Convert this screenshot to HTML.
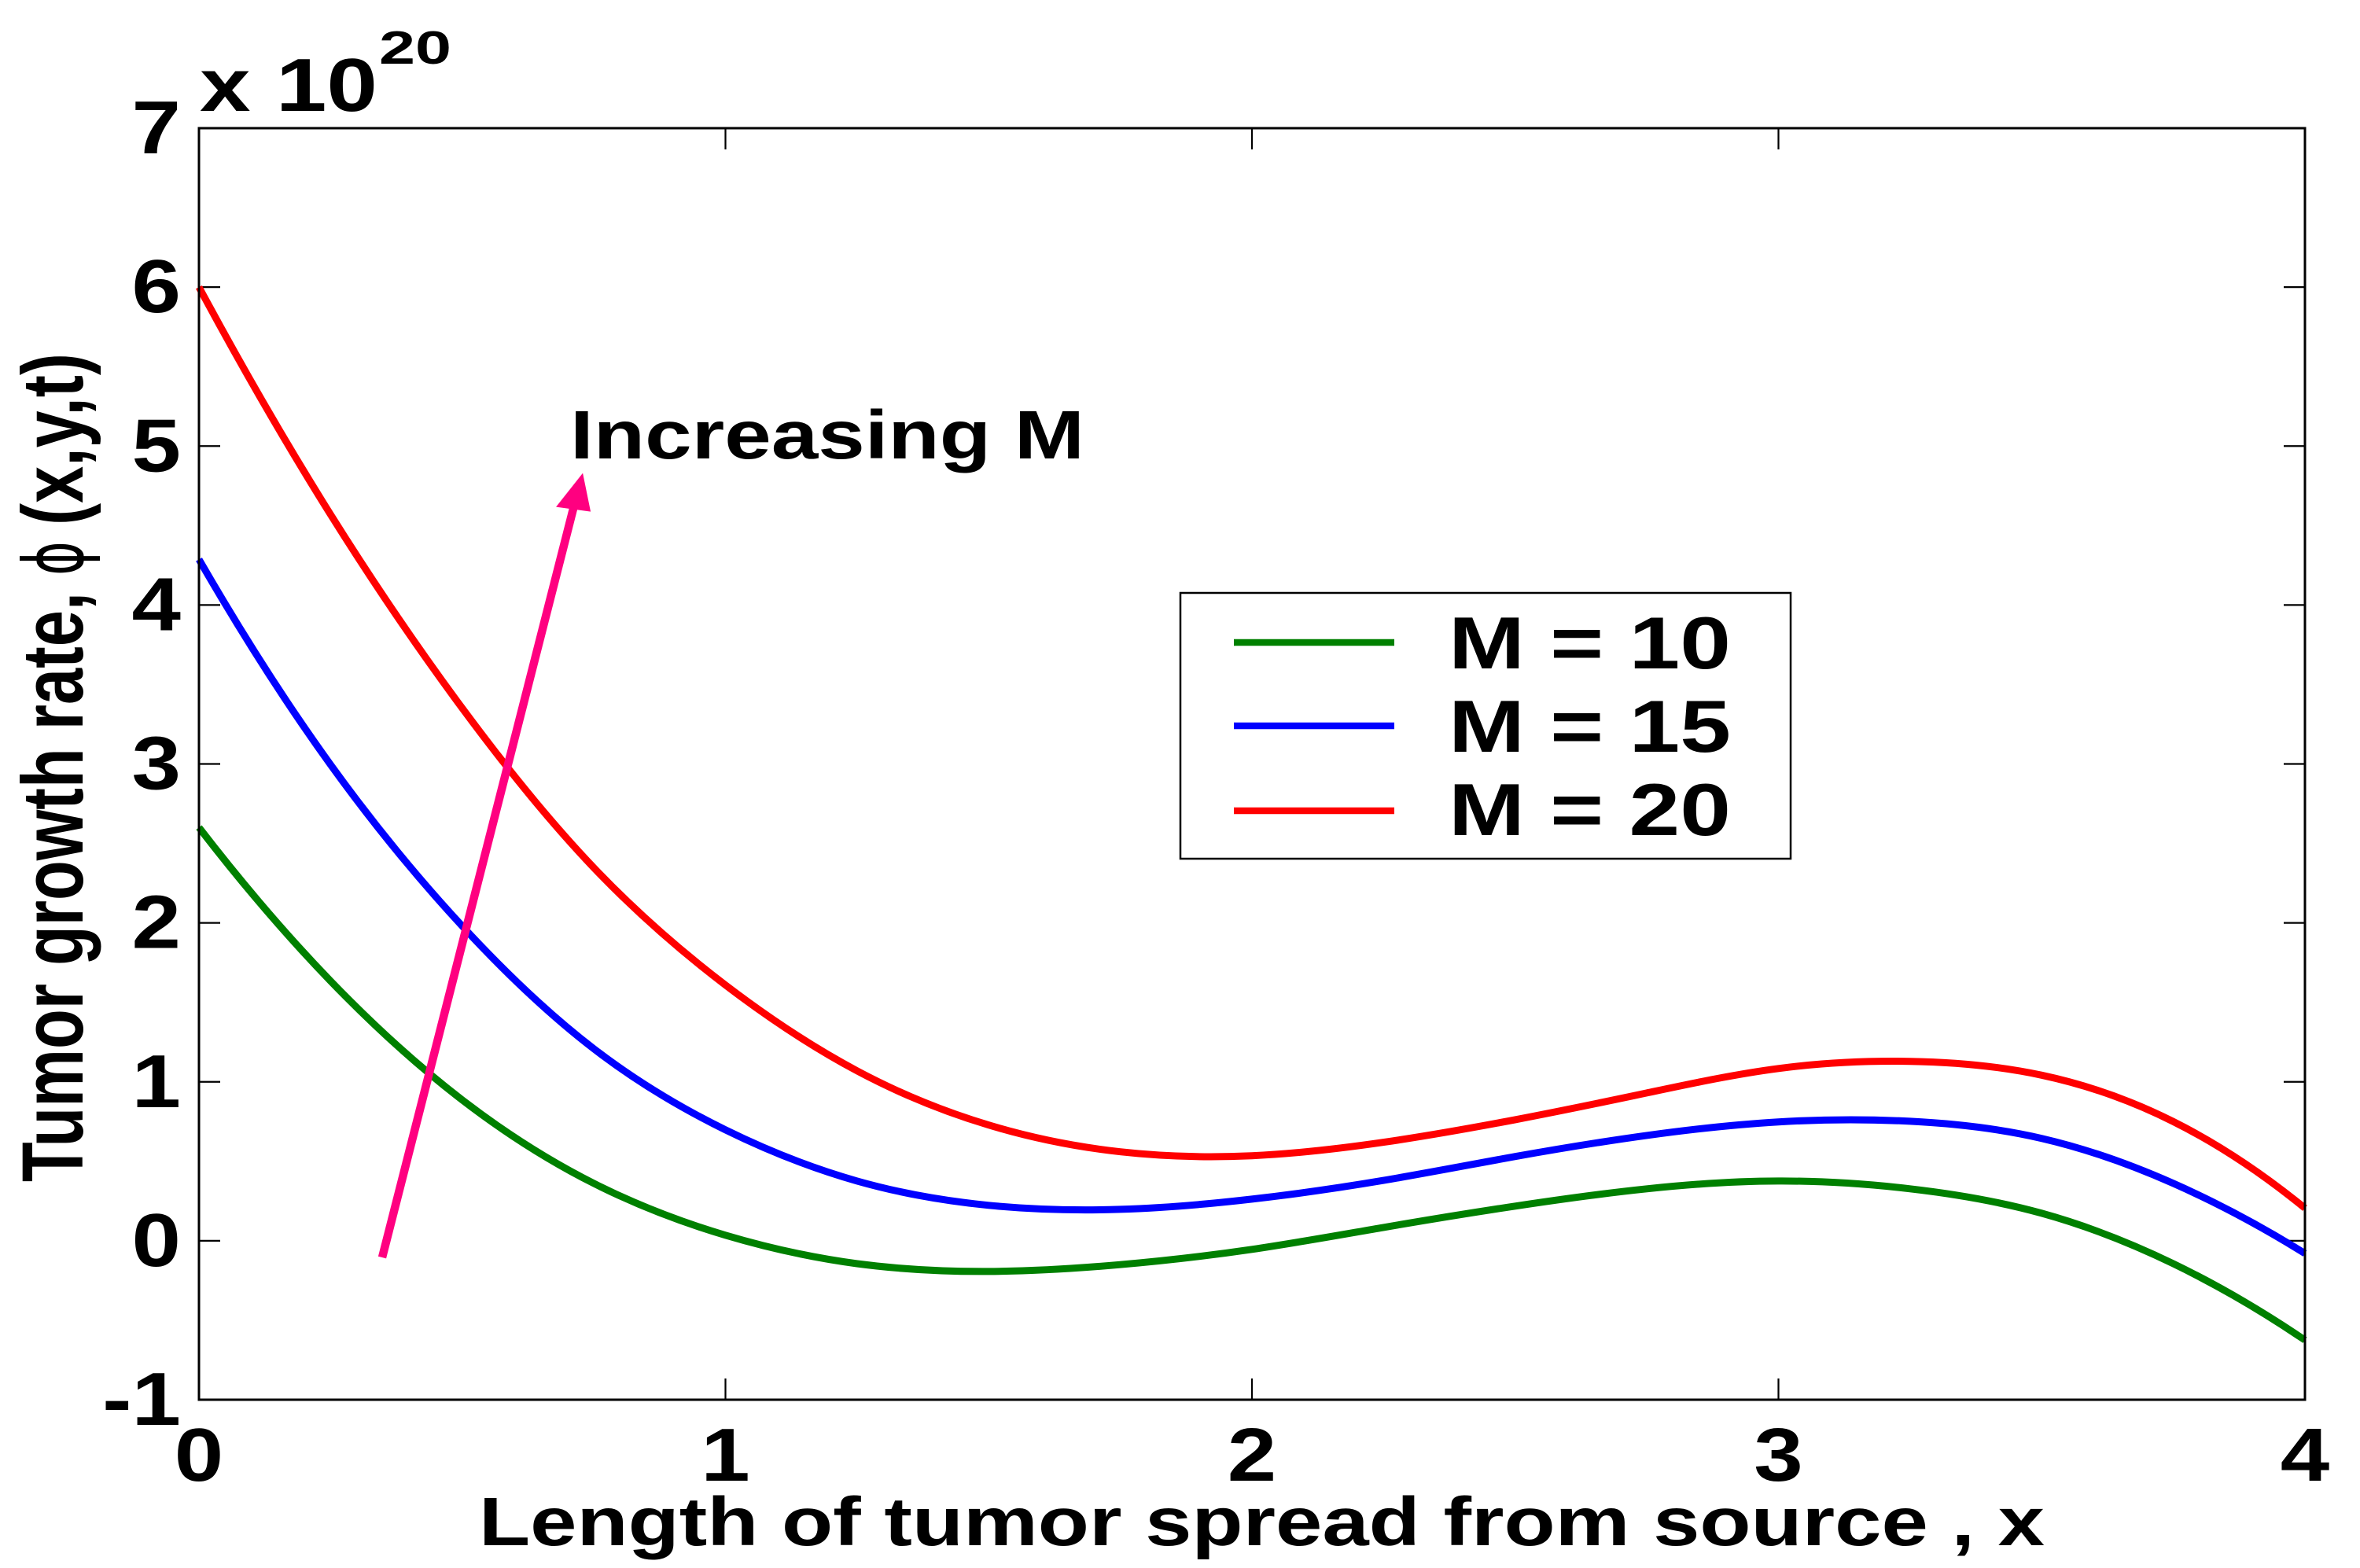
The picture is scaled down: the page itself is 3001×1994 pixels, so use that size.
<!DOCTYPE html>
<html lang="en">
<head>
<meta charset="utf-8">
<title>Tumor growth rate</title>
<style>
html,body{margin:0;padding:0;background:#fff;width:3001px;height:1994px;overflow:hidden}
svg{display:block}
text{font-family:"Liberation Sans",sans-serif;font-weight:700;fill:#000}
</style>
</head>
<body>
<svg id="chart" xmlns="http://www.w3.org/2000/svg" width="3001" height="1994" viewBox="0 0 3001 1994">
  <text x="254" y="141" font-size="96" textLength="226" lengthAdjust="spacingAndGlyphs">x 10</text>
  <text x="482" y="81" font-size="59" textLength="92" lengthAdjust="spacingAndGlyphs">20</text>
  <text x="609" y="1965" font-size="87" textLength="1991" lengthAdjust="spacingAndGlyphs">Length of tumor spread from source , x</text>
  <text transform="translate(105,1503) rotate(-90)" font-size="110" textLength="750" lengthAdjust="spacingAndGlyphs">Tumor growth rate,</text>
  <text transform="translate(105,732) rotate(-90)" style="font-family:'DejaVu Sans',sans-serif;font-weight:400" font-size="105" textLength="44" lengthAdjust="spacingAndGlyphs">ϕ</text>
  <text transform="translate(105,668) rotate(-90)" font-size="110" textLength="219" lengthAdjust="spacingAndGlyphs">(x,y,t)</text>
  <text x="725" y="583" font-size="87" textLength="654" lengthAdjust="spacingAndGlyphs">Increasing M</text>
</svg>
<script>
const xValues = [0, 0.25, 0.5, 0.75, 1, 1.25, 1.5, 1.75, 2, 2.25, 2.5, 2.75, 3, 3.25, 3.5, 3.75, 4];
const seriesM10 = [2.6, 1.634, 0.886, 0.361, 0.035, -0.144, -0.193, -0.15, -0.054, 0.084, 0.218, 0.327, 0.376, 0.327, 0.173, -0.144, -0.625];
const seriesM15 = [4.287, 2.995, 1.98, 1.208, 0.698, 0.376, 0.223, 0.198, 0.262, 0.38, 0.53, 0.663, 0.748, 0.752, 0.644, 0.361, -0.08];
const seriesM20 = [6.0, 4.569, 3.351, 2.347, 1.609, 1.069, 0.728, 0.56, 0.535, 0.62, 0.762, 0.93, 1.084, 1.129, 1.042, 0.75, 0.205];
const xTicks = [0, 1, 2, 3, 4];
const yTicks = [-1, 0, 1, 2, 3, 4, 5, 6, 7];
const legendLabels = ['M = 10', 'M = 15', 'M = 20'];
const arrowStart = [0.348, -0.105];
const arrowEnd = [0.729, 4.83];

const NS = 'http://www.w3.org/2000/svg';
const svg = document.getElementById('chart');
const plot = {left: 253, right: 2931, top: 163, bottom: 1780};
const xDomain = [0, 4];
const yDomain = [-1, 7];
function xScale(v) { return plot.left + (v - xDomain[0]) / (xDomain[1] - xDomain[0]) * (plot.right - plot.left); }
function yScale(v) { return plot.bottom - (v - yDomain[0]) / (yDomain[1] - yDomain[0]) * (plot.bottom - plot.top); }
function make(tag, attrs) {
  const el = document.createElementNS(NS, tag);
  for (const k in attrs) el.setAttribute(k, attrs[k]);
  svg.appendChild(el);
  return el;
}
// C2 cubic spline through the data points (uniform x spacing), drawn as beziers
function smoothPath(xs, ys) {
  const px = xs.map(xScale), py = ys.map(yScale);
  const n = px.length, h = px[1] - px[0];
  const m = new Array(n).fill(0);
  for (let it = 0; it < 400; it++) {
    for (let i = 1; i < n - 1; i++) {
      m[i] = (6 * (py[i - 1] - 2 * py[i] + py[i + 1]) / (h * h) - m[i - 1] - m[i + 1]) / 4;
    }
    m[0] = m[1];
    m[n - 1] = m[n - 2];
  }
  let d = 'M' + px[0].toFixed(1) + ' ' + py[0].toFixed(1);
  for (let i = 0; i < n - 1; i++) {
    const slope = (py[i + 1] - py[i]) / h;
    const s0 = slope - h * (2 * m[i] + m[i + 1]) / 6;
    const s1 = slope + h * (m[i] + 2 * m[i + 1]) / 6;
    d += 'C' + (px[i] + h / 3).toFixed(1) + ' ' + (py[i] + h * s0 / 3).toFixed(1) + ' ' +
         (px[i + 1] - h / 3).toFixed(1) + ' ' + (py[i + 1] - h * s1 / 3).toFixed(1) + ' ' +
         px[i + 1].toFixed(1) + ' ' + py[i + 1].toFixed(1);
  }
  return d;
}

// tick marks
const tickLen = 27;
xTicks.forEach(function (t) {
  if (t === xDomain[0] || t === xDomain[1]) return;
  const x = xScale(t);
  const bottomTick = make('line', {x1: x, x2: x, y1: plot.bottom, y2: plot.bottom - tickLen, stroke: '#000', 'stroke-width': 2.2});
  
  
  const topTick = make('line', {x1: x, x2: x, y1: plot.top, y2: plot.top + tickLen, stroke: '#000', 'stroke-width': 2.2});
  
  
});
yTicks.forEach(function (t) {
  if (t === yDomain[0] || t === yDomain[1]) return;
  const y = yScale(t);
  const leftTick = make('line', {x1: plot.left, x2: plot.left + tickLen, y1: y, y2: y, stroke: '#000', 'stroke-width': 2.2});
  
  
  const rightTick = make('line', {x1: plot.right, x2: plot.right - tickLen, y1: y, y2: y, stroke: '#000', 'stroke-width': 2.2});
  
  
});

// tick labels
xTicks.forEach(function (t) {
  const label = make('text', {transform: 'translate(' + xScale(t) + ',1883) scale(1.17,1)', 'text-anchor': 'middle', 'font-size': 96});
  label.textContent = String(t);
  
  
});
yTicks.forEach(function (t) {
  const label = make('text', {transform: 'translate(230,' + (yScale(t) + 32) + ') scale(1.17,1)', 'text-anchor': 'end', 'font-size': 96});
  label.textContent = String(t);
  
  
});

// series
const lineM10 = make('path', {d: smoothPath(xValues, seriesM10), fill: 'none', stroke: '#008000', 'stroke-width': 9});


const lineM15 = make('path', {d: smoothPath(xValues, seriesM15), fill: 'none', stroke: '#0000ff', 'stroke-width': 9});


const lineM20 = make('path', {d: smoothPath(xValues, seriesM20), fill: 'none', stroke: '#ff0000', 'stroke-width': 9});



// frame
const frame = make('rect', {x: plot.left, y: plot.top, width: plot.right - plot.left, height: plot.bottom - plot.top, fill: 'none', stroke: '#000', 'stroke-width': 3});



// annotation arrow
const ax1 = xScale(arrowStart[0]), ay1 = yScale(arrowStart[1]);
const ax2 = xScale(arrowEnd[0]), ay2 = yScale(arrowEnd[1]);
const arrowLine = make('line', {x1: ax1, y1: ay1, x2: ax2 - 12, y2: ay2 + 45, stroke: '#ff0080', 'stroke-width': 10.5});


const arrowHead = make('polygon', {points: ax2 + ',' + ay2 + ' ' + (ax2 - 34) + ',' + (ay2 + 43) + ' ' + (ax2 + 10) + ',' + (ay2 + 49), fill: '#ff0080'});



// legend
const legendBox = make('rect', {x: 1501, y: 754, width: 776, height: 338, fill: '#fff', stroke: '#000', 'stroke-width': 2.5});


const legendColors = ['#008000', '#0000ff', '#ff0000'];
const legendLineY = [817, 923, 1031];
const legendTextY = [850, 956, 1062];
legendLabels.forEach(function (txt, i) {
  const swatch = make('line', {x1: 1569, x2: 1773, y1: legendLineY[i], y2: legendLineY[i], stroke: legendColors[i], 'stroke-width': 8.5});
  
  
  const label = make('text', {x: 1842, y: legendTextY[i], 'font-size': 94, textLength: 359, lengthAdjust: 'spacingAndGlyphs'});
  label.textContent = txt;
  
  
});
</script>
</body>
</html>
